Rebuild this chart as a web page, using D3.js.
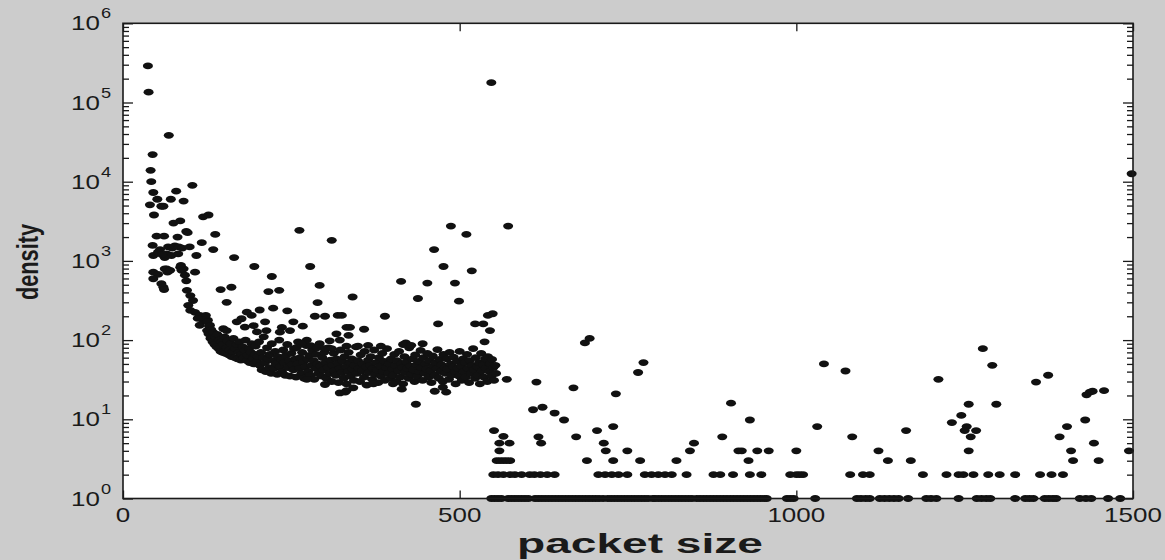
<!DOCTYPE html>
<html><head><meta charset="utf-8">
<script src="https://cdn.jsdelivr.net/npm/d3@7/dist/d3.min.js"></script>
<style>html,body{margin:0;padding:0;background:#cccccc;}svg{display:block;}</style>
</head><body>
<svg id="chart" width="1165" height="560"></svg>
<script>
// ---- data (packet size, density) ----
const xTickValues = [0, 500, 1000, 1500];
const xTickLabels = ["0", "500", "1000", "1500"];
const yDecadeExponents = [0, 1, 2, 3, 4, 5, 6];
const xAxisTitle = "packet size";
const yAxisTitle = "density";

const headPoints = [
 [37,290000],[38,135000],[68,38500],[44,22000],[41,13900],[42,10000],[45,7300],[79,7600],[103,9000],
 [51,6000],[71,6000],[90,5700],[40,5100],[57,4900],[60,4900],[46,3800],
 [75,3000],[85,3200],[119,3600],[127,3800],[94,2350],[96,2270],[137,2160],
 [50,2050],[61,2050],[81,2000],[117,1700],[44,1570],[55,1390],[134,1390],
 [67,1500],[73,1450],[77,1550],[83,1500],[88,1450],[99,1500],
 [45,1170],[52,1290],[65,1230],[72,1170],[82,1230],[109,1170],[165,1100],[62,1100],[58,1200],
 [195,850],[278,850],[65,795],[85,830],[90,795],
 [45,720],[52,675],[62,795],[66,720],[70,760],[86,875],[87,760],[92,660],[94,560],[107,720],
 [45,595],[57,515],[60,465],[61,435],[221,635],[161,465],[145,435],[216,410],[232,425],[292,490],
 [95,425],[100,365],[104,316],[97,275],[100,237],[107,224],[114,205],
 [154,300],[289,297],[203,240],[223,253],[244,234],[184,225],[191,205],[176,186],[169,170],
 [285,200],[300,200],[319,205],[253,170],[267,150],[211,170],[213,132],[236,145],[248,132],[233,126],
 [149,139],[154,132],[317,120],[332,145],[181,146],[194,152],[199,127],
 [126,178],[129,154],[125,132],[132,115],[137,100],[141,85],[147,74],[123,205],[119,178],[114,154],[111,188],
 [262,2430],[310,1820]
];

const bandPoints = [
 [125,170],[127,120],[128,150],[130,105],[131,135],[133,95],[134,125],[136,88],[137,110],[139,82],[140,118],[142,78],[143,100],[145,72],[146,95],[148,70],[149,88],[151,110],[152,68],[154,80],[155,98],[157,65],[158,75],[160,90],[161,62],[163,72],[164,105],[166,60],[167,78],[169,88],[170,58],[172,70],[173,95],[175,56],[176,66],[178,82],[179,60],[181,74],[182,100],[184,55],[185,64],[187,78],[188,52],[190,70],[191,90],[193,58],[194,50],[196,66],[197,84],[199,54],[200,62],
 [202,95],[203,48],[205,70],[206,42],[208,60],[209,110],[211,52],[212,40],[214,80],[215,58],[217,45],[218,66],[220,38],[221,90],[223,55],[224,44],[226,72],[227,50],[229,37],[230,62],[232,100],[233,46],[235,57],[236,40],[238,75],[239,52],[241,36],[242,64],[244,88],[245,45],[247,55],[248,35],[250,68],[251,49],[253,42],[254,78],[256,58],[257,34],[259,50],[260,95],[262,44],[263,60],[265,38],[266,70],[268,53],[269,33],[271,46],[272,85],[274,57],[275,40],[277,64],[278,36],[280,48],[281,75],[283,55],[284,32],[286,44],[287,66],[289,50],[290,38],[292,90],[293,47],[295,35],[296,60],[298,42],[299,70],
 [301,52],[302,33],[304,45],[305,80],[307,38],[308,56],[310,30],[311,48],[313,68],[314,41],[316,36],[317,58],[319,50],[320,29],[322,44],[323,75],[325,39],[326,54],[328,33],[329,62],[331,46],[332,28],[334,40],[335,70],[337,52],[338,35],[340,58],[341,43],[343,31],[344,48],[346,82],[347,38],[349,55],[350,44],[352,30],[353,65],[355,41],[356,50],[358,34],[359,72],[361,46],[362,27],[364,56],[365,39],[367,48],[368,62],[370,32],[371,44],[373,75],[374,37],[376,52],[377,42],[379,29],[380,60],[382,47],[383,35],[385,68],[386,40],[388,54],[389,31],[391,45],[392,78],[394,38],[395,50],[397,33],[398,58],[400,43],
 [401,36],[403,66],[404,48],[406,30],[407,55],[409,41],[410,72],[412,34],[413,50],[415,45],[416,28],[418,62],[419,39],[421,53],[422,44],[424,33],[425,80],[427,47],[428,37],[430,58],[431,42],[433,30],[434,65],[436,49],[437,35],[439,54],[440,40],[442,74],[443,45],[445,31],[446,60],[448,38],[449,50],[451,43],[452,68],[454,34],[455,55],[457,41],[458,29],[460,63],[461,47],[463,36],[464,52],[466,44],[467,76],[469,33],[470,57],[472,40],[473,49],[475,30],[476,66],[478,45],[479,38],[481,58],[482,43],[484,32],[485,70],[487,50],[488,36],[490,46],[491,61],[493,40],[494,28],[496,54],[497,44],[499,35],[500,72],
 [502,47],[503,31],[505,58],[506,40],[508,52],[509,34],[511,66],[512,44],[514,29],[515,55],[517,38],[518,48],[520,78],[521,42],[523,33],[524,60],[526,46],[527,36],[529,52],[530,28],[532,68],[533,41],[535,49],[536,34],[538,58],[539,44],[541,30],[542,62],[544,40],[545,50],[547,35],[548,57],[550,45],[551,31],[553,48],[554,38]
];

const scatterPoints = [
 [341,350],[438,335],[499,310],[325,205],[389,200],[549,215],[542,205],[468,160],[523,160],[535,160],[337,145],[358,137],[545,132],[335,115],[537,95],[420,92],[416,88],[428,86],[445,90],[332,84],[349,84],[364,86],[383,84],
 [487,2750],[572,2750],[510,2160],[462,1390],[476,850],[518,750],[413,550],[452,525],[493,525],[547,178000],
 [273,100],[265,90],[258,81],[279,85],[288,80],[300,78],[322,100],[307,98],[310,78],
 [273,32],[300,27.5],[330,22],[435,15.5],[463,22.6],[475,25.4],[480,22],[414,24],[372,28],[401,28],[322,21.5],[332,23],[342,25]
];

const tailPoints = [
 [570,32],[614,29.5],[609,13.2],[623,14.2],[641,12],[655,9.8],[551,7.2],[565,6.1],[559,5],[574,5],[617,6],[621,5],[559,4],
 [686,92],[693,105],[773,52],[765,39],[669,25],[732,21],[673,6],[704,7.2],[728,8.1],[714,5],[717,4],[749,4],[842,4],[848,5],
 [890,6],[903,16],[931,9.8],[914,4],[919,4],[942,4],[959,4],[1000,4],[1031,8.1],[1041,50],[1073,40.7],[1083,6],[1122,4],
 [1163,7.2],[1211,32],[1277,78],[1291,48],[1297,15.5],[1256,15.5],[1245,11.2],[1231,9.1],[1253,8.1],[1250,7.2],[1267,7.2],[1259,6],[1256,4],
 [1356,29.5],[1374,36],[1391,6],[1402,8.1],[1408,4],[1429,9.8],[1431,20.4],[1436,22],[1440,22.6],[1457,23],[1442,5],[1494,4],[1498,12600]
];

const sizesDensity3 = [555,560,565,570,575,689,728,768,822,929,1136,1170,1411,1449];
const sizesDensity2 = [550,557,565,575,582,592,604,611,620,630,641,706,716,726,736,749,775,785,795,805,815,837,877,887,906,931,948,991,1000,1005,1010,1080,1099,1109,1188,1223,1241,1248,1263,1285,1302,1325,1362,1379,1396];
const sizesDensity1 = [547,552,557,562,572,577,582,587,592,597,602,612,617,622,627,632,637,642,647,652,657,662,667,672,677,682,687,692,697,702,707,713,720,725,730,735,740,745,750,755,760,765,770,775,780,787,790,795,800,805,810,815,820,825,830,835,840,845,852,857,862,867,872,877,882,887,892,897,902,907,912,917,922,927,932,937,942,947,952,956,986,991,996,1028,1090,1096,1103,1109,1124,1131,1138,1145,1152,1166,1193,1200,1208,1241,1268,1275,1282,1288,1325,1340,1346,1352,1369,1375,1381,1386,1421,1430,1438,1463,1481];

// ---- drawing ----
const svg = d3.select("#chart");
const plot = {left:123, right:1133, top:23.3, bottom:498.5};
const x = d3.scaleLinear().domain([0,1500]).range([plot.left, plot.right]);
const y = d3.scaleLog().domain([1,1e6]).range([plot.bottom, plot.top]);
const ink = "#1a1a1a";
const stretch = 1.3;

svg.append("rect").attr("width",1165).attr("height",560).attr("fill","#cccccc");
svg.append("rect").attr("x",plot.left).attr("y",plot.top)
  .attr("width",plot.right-plot.left).attr("height",plot.bottom-plot.top).attr("fill","#ffffff");

const allPoints = [].concat(
  headPoints, bandPoints, scatterPoints, tailPoints,
  sizesDensity3.map(s=>[s,3]), sizesDensity2.map(s=>[s,2]), sizesDensity1.map(s=>[s,1])
);
svg.append("g").selectAll("ellipse").data(allPoints).join("ellipse")
  .attr("cx", d=>x(d[0])).attr("cy", d=>y(d[1]))
  .attr("rx", 5).attr("ry", 3.4).attr("fill", "#111");

// ticks
const minor = [];
for (let e=0;e<6;e++) for (let m=2;m<=9;m++) minor.push(m*Math.pow(10,e));
const major = yDecadeExponents.map(e=>Math.pow(10,e));
function styleAxis(g){ g.select(".domain").remove(); g.selectAll("line").attr("stroke",ink).attr("stroke-width",1.3); g.selectAll("text").remove(); }
svg.append("g").attr("transform",`translate(${plot.left},0)`).call(d3.axisLeft(y).tickValues(minor).tickSize(-6)).call(styleAxis);
svg.append("g").attr("transform",`translate(${plot.left},0)`).call(d3.axisLeft(y).tickValues(major).tickSize(-10)).call(styleAxis);
svg.append("g").attr("transform",`translate(${plot.right},0)`).call(d3.axisRight(y).tickValues(minor).tickSize(-6)).call(styleAxis);
svg.append("g").attr("transform",`translate(${plot.right},0)`).call(d3.axisRight(y).tickValues(major).tickSize(-10)).call(styleAxis);
svg.append("g").attr("transform",`translate(0,${plot.bottom})`).call(d3.axisBottom(x).tickValues(xTickValues).tickSize(-8)).call(styleAxis);
svg.append("g").attr("transform",`translate(0,${plot.top})`).call(d3.axisTop(x).tickValues(xTickValues).tickSize(-8)).call(styleAxis);

// frame
svg.append("rect").attr("x",plot.left).attr("y",plot.top)
  .attr("width",plot.right-plot.left).attr("height",plot.bottom-plot.top)
  .attr("fill","none").attr("stroke",ink).attr("stroke-width",1.6);

const font = "Liberation Sans, Arial, Helvetica, sans-serif";
// x tick labels
xTickValues.forEach((v,i)=>{
  svg.append("text").attr("transform",`translate(${x(v)},${plot.bottom+23}) scale(${stretch},1)`)
    .attr("text-anchor","middle").attr("font-family",font).attr("font-size",20).attr("fill",ink)
    .text(xTickLabels[i]);
});
// y tick labels 10^e
yDecadeExponents.forEach(e=>{
  const yy = y(Math.pow(10,e));
  svg.append("text").attr("transform",`translate(100,${yy+7}) scale(${stretch},1)`)
    .attr("text-anchor","end").attr("font-family",font).attr("font-size",20).attr("fill",ink).text("10");
  svg.append("text").attr("transform",`translate(101,${yy-5}) scale(${stretch},1)`)
    .attr("text-anchor","start").attr("font-family",font).attr("font-size",14).attr("fill",ink).text(String(e));
});
// axis titles
svg.append("text").attr("x",640).attr("y",553).attr("text-anchor","middle")
  .attr("font-family",font).attr("font-size",27).attr("font-weight","bold").attr("fill",ink)
  .attr("textLength",246).attr("lengthAdjust","spacingAndGlyphs").text(xAxisTitle);
svg.append("text").attr("transform","translate(38,262) scale(1.3,1) rotate(-90)")
  .attr("text-anchor","middle").attr("font-family",font).attr("font-size",23).attr("font-weight","bold").attr("fill",ink)
  .attr("textLength",76).attr("lengthAdjust","spacingAndGlyphs").text(yAxisTitle);
</script>
</body></html>
